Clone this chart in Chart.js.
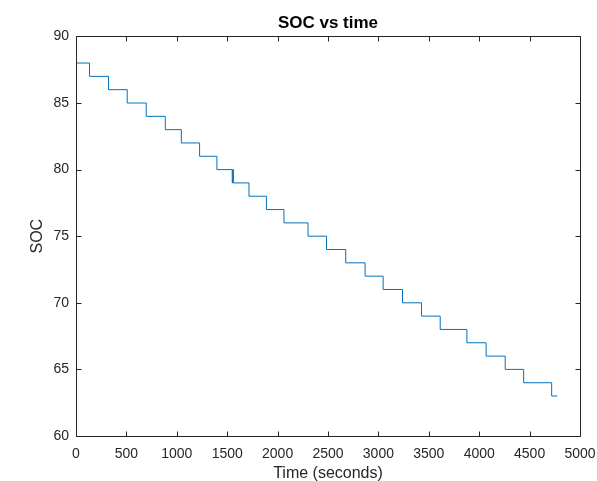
<!DOCTYPE html>
<html>
<head>
<meta charset="utf-8">
<script src="https://cdn.jsdelivr.net/npm/chart.js@4/dist/chart.umd.min.js"></script>
<style>
  html, body { margin: 0; padding: 0; background: #fff; }
  #wrap { width: 597px; height: 481px; }
</style>
</head>
<body>
<div id="wrap"><canvas id="socChart" width="597" height="481"></canvas></div>
<script>
// SOC vs time - step data
// time (s) at which SOC steps to the new level
const stepTimes = [0, 134, 323, 508, 697, 886, 1045, 1226, 1398, 1550, 1556, 1562,
    1716, 1889, 2063, 2302, 2485, 2676, 2868, 3047, 3239, 3428, 3613,
    3878, 4069, 4258, 4441, 4719, 4774];
const socLevels = [88, 87, 86, 85, 84, 83, 82, 81, 80, 79, 80, 79,
    78, 77, 76, 75, 74, 73, 72, 71, 70, 69, 68,
    67, 66, 65, 64, 63, 63];

const xTicks = [0, 500, 1000, 1500, 2000, 2500, 3000, 3500, 4000, 4500, 5000];
const yTicks = [60, 65, 70, 75, 80, 85, 90];

const FONT = "'Liberation Sans', Arial, Helvetica, sans-serif";
const AXIS_COLOR = '#262626';

// MATLAB風の枠と内向きの目盛り
const boxPlugin = {
    id: 'boxTicks',
    afterDraw(chart) {
        const { ctx, chartArea: a, scales } = chart;
        const len = 5;
        ctx.save();
        ctx.strokeStyle = AXIS_COLOR;
        ctx.lineWidth = 1;
        ctx.beginPath();
        const l = Math.round(a.left) + 0.5, r = Math.round(a.right) + 0.5;
        const t = Math.round(a.top) + 0.5, b = Math.round(a.bottom) + 0.5;
        ctx.rect(l, t, r - l, b - t);
        xTicks.forEach(v => {
            const x = Math.round(scales.x.getPixelForValue(v)) + 0.5;
            ctx.moveTo(x, b); ctx.lineTo(x, b - len);
            ctx.moveTo(x, t); ctx.lineTo(x, t + len);
        });
        yTicks.forEach(v => {
            const y = Math.round(scales.y.getPixelForValue(v)) + 0.5;
            ctx.moveTo(l, y); ctx.lineTo(l + len, y);
            ctx.moveTo(r, y); ctx.lineTo(r - len, y);
        });
        ctx.stroke();
        ctx.restore();
    }
};

const points = stepTimes.map((t, i) => ({ x: t, y: socLevels[i] }));

// ラベルのはみ出し分の余白を無効化
function fixPadding(s) {
    s.paddingLeft = 0;
    s.paddingRight = 0;
    s.paddingTop = 0;
    s.paddingBottom = 0;
}

new Chart(document.getElementById('socChart'), {
    type: 'line',
    data: {
        datasets: [{
            data: points,
            borderColor: '#0072BD',
            borderWidth: 1,
            pointRadius: 0,
            stepped: true,
            fill: false
        }]
    },
    options: {
        responsive: false,
        animation: false,
        devicePixelRatio: 1,
        layout: { padding: { left: 0, right: 17, top: 0, bottom: 0 } },
        plugins: {
            legend: { display: false },
            tooltip: { enabled: false },
            title: {
                display: true,
                fullSize: false,
                text: 'SOC vs time',
                color: '#000',
                font: { family: FONT, size: 17, weight: 'bold' },
                padding: { top: 13, bottom: 3 }
            }
        },
        scales: {
            x: {
                type: 'linear',
                min: 0,
                max: 5000,
                afterFit: s => { s.height = 45; fixPadding(s); },
                afterBuildTicks: s => { s.ticks = xTicks.map(v => ({ value: v })); },
                grid: { display: false, drawTicks: false },
                border: { display: false },
                ticks: {
                    color: AXIS_COLOR,
                    font: { family: FONT, size: 14 },
                    padding: 10,
                    maxRotation: 0,
                    autoSkip: false,
                    callback: v => String(v)
                },
                title: {
                    display: true,
                    text: 'Time (seconds)',
                    color: AXIS_COLOR,
                    font: { family: FONT, size: 16 },
                    padding: { top: 0, bottom: -2 }
                }
            },
            y: {
                min: 60,
                max: 90,
                afterFit: s => { s.width = 76; fixPadding(s); },
                afterBuildTicks: s => { s.ticks = yTicks.map(v => ({ value: v })); },
                grid: { display: false, drawTicks: false },
                border: { display: false },
                ticks: {
                    color: AXIS_COLOR,
                    font: { family: FONT, size: 14 },
                    padding: 7,
                    autoSkip: false,
                    callback: v => String(v)
                },
                title: {
                    display: true,
                    text: 'SOC',
                    color: AXIS_COLOR,
                    font: { family: FONT, size: 16 },
                    padding: { top: 28, bottom: 0 }
                }
            }
        }
    },
    plugins: [boxPlugin]
});
</script>
</body>
</html>
